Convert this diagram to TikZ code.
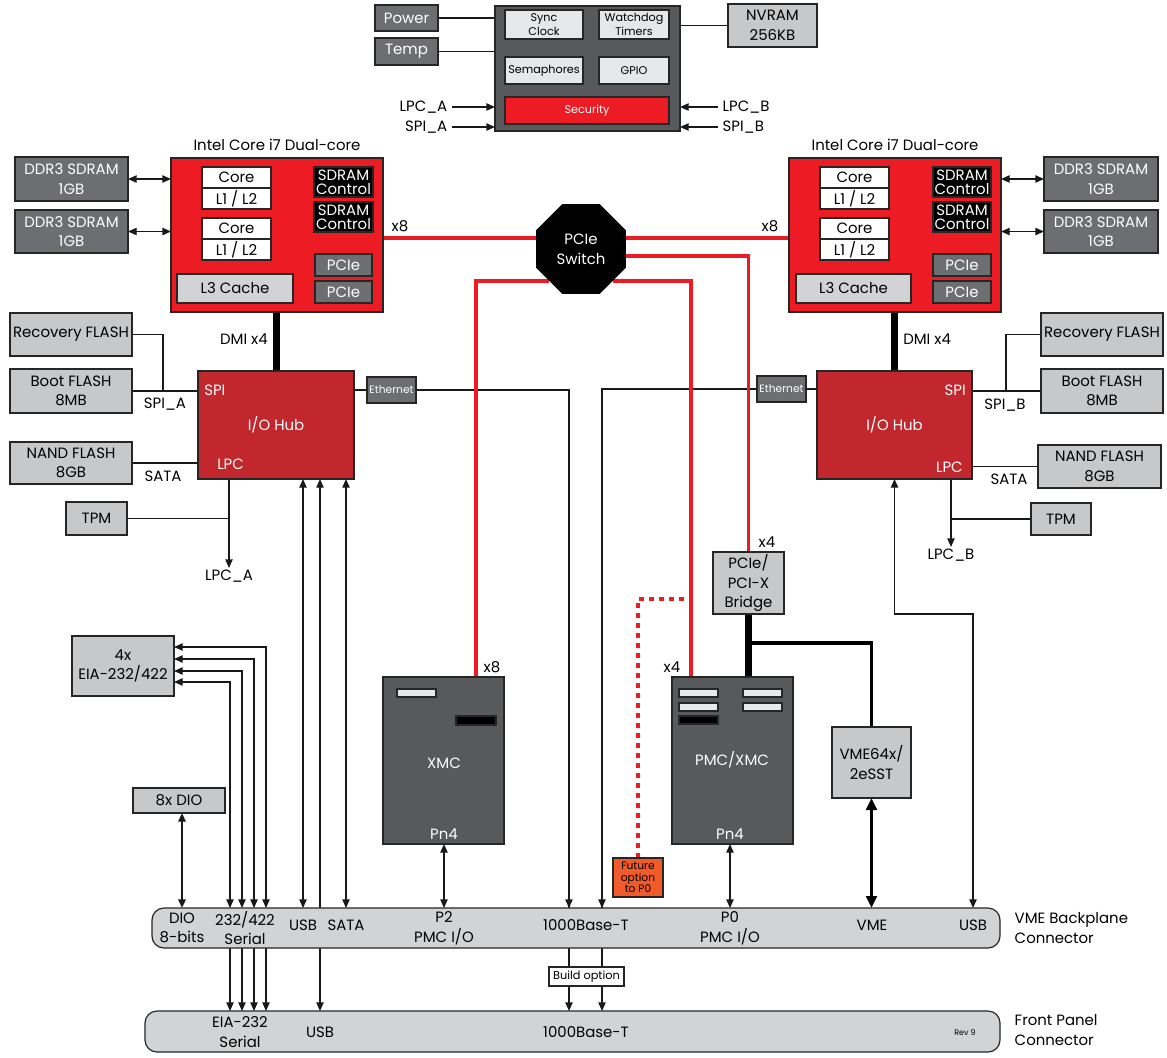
\documentclass[tikz,border=0pt]{standalone}
\usepackage{fontspec}
\setmainfont{Poppins}
\usetikzlibrary{shapes.geometric,arrows.meta}
\definecolor{vred}{HTML}{ED1C24}
\definecolor{hubred}{HTML}{C1272D}
\definecolor{dkgray}{HTML}{6D6E71}
\definecolor{slategray}{HTML}{58595B}
\definecolor{ltgray}{HTML}{C7C8CA}
\definecolor{palegray}{HTML}{E6E7E8}
\definecolor{connfill}{HTML}{D1D3D4}
\definecolor{orng}{HTML}{F15A29}
\pgfdeclarelayer{bg}
\pgfsetlayers{bg,main}

\begin{document}
\begin{tikzpicture}[x=0.75pt, y=-0.75pt, font=\fontsize{11.2}{14.8}\selectfont,
  >={Triangle[length=6.5pt,width=5.5pt]},
  corners/.style args={#1/#2/#3/#4}{minimum width={(#3-#1)*0.75pt}, minimum height={(#4-#2)*0.75pt},
    at={({(#1+#3)/2},{(#2+#4)/2})}},
  box/.style={draw=black!85, line width=0.9pt, inner sep=0pt, outer sep=0pt, align=center},
  dark/.style={box, fill=dkgray, text=white},
  light/.style={box, fill=ltgray},
  pale/.style={box, fill=palegray},
  chip/.style={box, fill=vred},
  hub/.style={box, fill=hubred, text=white},
  blk/.style={box, fill=black, text=white, font=\fontsize{11.2}{10.5}\selectfont},
  wht/.style={box, fill=white},
  well/.style={box, fill=slategray, text=white},
  conn/.style={box, fill=connfill, rounded corners=9pt},
  wire/.style={line width=1pt, draw=black!90},
  lane/.style={line width=2.3pt, draw=vred},
  bus/.style={line width=5.25pt},
  small/.style={font=\fontsize{8.4}{11}\selectfont},
  tiny/.style={font=\fontsize{8}{8.6}\selectfont}]
\useasboundingbox (0,0) rectangle (1167,1057);

% board controller
\node[well, corners=495/6/680/131] (ctl) {};
\node[pale, small, corners=505/10/583/39] (sync) {Sync\\Clock};
\node[pale, small, corners=599/10/669/39] (wdog) {Watchdog\\Timers};
\node[pale, small, corners=505/57/583/84] (sema) {Semaphores};
\node[pale, small, corners=599/57/669/84] (gpio) {GPIO};
\node[chip, small, text=white, corners=505/97/669/124] (secu) {Security};
\node[dark, corners=375/5/438/31] (power) {Power};
\node[dark, corners=375/38/438/65] (temp) {Temp};
\node[light, corners=728/4/817/47] (nvram) {NVRAM\\256KB};
\node[anchor=east] (lpcAt) at (452,107) {LPC\_A};
\node[anchor=east] (spiAt) at (452,127) {SPI\_A};
\node[anchor=west] (lpcBt) at (718,107) {LPC\_B};
\node[anchor=west] (spiBt) at (718,127) {SPI\_B};

% processor A
\node[chip, corners=171/158/383/312] (cpuA) {};
\node[above=2pt] (cpuAt) at (cpuA.north) {Intel Core i7 Dual-core};
\node[wht, corners=202/167/271/188] (coreA1) {Core};
\node[wht, corners=202/188/271/209] (cacheA1) {L1 / L2};
\node[wht, corners=202/218/271/239] (coreA2) {Core};
\node[wht, corners=202/239/271/260] (cacheA2) {L1 / L2};
\node[blk, corners=314/167/373/197] (sdrA1) {SDRAM\\Control};
\node[blk, corners=314/202/373/232] (sdrA2) {SDRAM\\Control};
\node[dark, corners=315/254/372/276] (pcieA1) {PCIe};
\node[dark, corners=315/281/372/303] (pcieA2) {PCIe};
\node[box, fill=connfill, corners=177/274/293/303] (l3A) {L3 Cache};
\node[dark, corners=15/157/128/201] (ddrA1) {DDR3 SDRAM\\1GB};
\node[dark, corners=15/210/128/253] (ddrA2) {DDR3 SDRAM\\1GB};
\node (x8A) at (400,226) {x8};

% processor B
\node[chip, corners=789/158/1001/312] (cpuB) {};
\node[above=2pt] (cpuBt) at (cpuB.north) {Intel Core i7 Dual-core};
\node[wht, corners=820/167/889/188] (coreB1) {Core};
\node[wht, corners=820/188/889/209] (cacheB1) {L1 / L2};
\node[wht, corners=820/218/889/239] (coreB2) {Core};
\node[wht, corners=820/239/889/260] (cacheB2) {L1 / L2};
\node[blk, corners=933/167/991/197] (sdrB1) {SDRAM\\Control};
\node[blk, corners=933/202/991/232] (sdrB2) {SDRAM\\Control};
\node[dark, corners=933/254/991/276] (pcieB1) {PCIe};
\node[dark, corners=933/281/991/303] (pcieB2) {PCIe};
\node[box, fill=connfill, corners=796/274/911/303] (l3B) {L3 Cache};
\node[dark, corners=1044/157/1158/201] (ddrB1) {DDR3 SDRAM\\1GB};
\node[dark, corners=1044/210/1158/253] (ddrB2) {DDR3 SDRAM\\1GB};
\node (x8B) at (770,226) {x8};

\node[regular polygon, regular polygon sides=8, fill=black, text=white, minimum size=73pt,
  inner sep=0pt, align=center] (sw) at (581,249) {PCIe\\Switch};

% I/O hub A
\node[hub, corners=198/371/354/479] (hubA) {I/O Hub};
\node[anchor=west, inner sep=0pt, text=white] (spiA) at (204,390) {SPI};
\node[anchor=west, inner sep=0pt, text=white] (lpcA) at (217,464) {LPC};
\node[anchor=east, inner sep=0pt] (dmiA) at (268,339) {DMI x4};
\node[dark, font=\fontsize{8}{9}\selectfont, corners=367/377/416/403] (ethA) {Ethernet};
\node[light, corners=10/313/132/356] (recA) {Recovery FLASH};
\node[light, corners=10/369/132/413] (bootA) {Boot FLASH\\8MB};
\node[light, corners=10/442/132/484] (nandA) {NAND FLASH\\8GB};
\node[light, corners=66/502/127/535] (tpmA) {TPM};
\node (spiAl) at (165,404) {SPI\_A};
\node (sataAl) at (163,476) {SATA};
\node[anchor=north, inner sep=1pt] (lpcAo) at (229,568) {LPC\_A};

% I/O hub B
\node[hub, corners=817/371/972/479] (hubB) {I/O Hub};
\node[anchor=east, inner sep=0pt, text=white] (spiB) at (966,390) {SPI};
\node[anchor=east, inner sep=0pt, text=white] (lpcB) at (963,467) {LPC};
\node[anchor=west, inner sep=0pt] (dmiB) at (903,339) {DMI x4};
\node[dark, font=\fontsize{8}{9}\selectfont, corners=757/376/806/402] (ethB) {Ethernet};
\node[light, corners=1041/313/1163/356] (recB) {Recovery FLASH};
\node[light, corners=1041/369/1163/413] (bootB) {Boot FLASH\\8MB};
\node[light, corners=1038/445/1161/488] (nandB) {NAND FLASH\\8GB};
\node[light, corners=1031/503/1091/535] (tpmB) {TPM};
\node (spiBl) at (1005,405) {SPI\_B};
\node (sataBl) at (1009,479) {SATA};
\node[anchor=north, inner sep=1pt] (lpcBo) at (951,547) {LPC\_B};

% mezzanine sites and bridge
\node[light, corners=713/552/784/614] (bridge) {PCIe/\\PCI-X\\Bridge};
\node (x4B) at (767,542) {x4};
\node[light, corners=832/727/911/798] (vmechip) {VME64x/\\2eSST};
\node[well, corners=383/677/504/844] (xmc) {};
\node[box, fill=palegray, corners=397/689/436/697] (xmcS) {};
\node[box, fill=black, corners=456/716/496/725] (xmcK) {};
\node[text=white] (xmcT) at (444,763) {XMC};
\node[text=white] (xmcP) at (444,834) {Pn4};
\node (x8X) at (492,667) {x8};
\node[well, corners=672/677/793/844] (pmc) {};
\node[box, fill=palegray, corners=679/689/718/697] (pmcS1) {};
\node[box, fill=palegray, corners=679/703/718/711] (pmcS2) {};
\node[box, fill=palegray, corners=743/689/782/697] (pmcS3) {};
\node[box, fill=palegray, corners=743/703/782/711] (pmcS4) {};
\node[box, fill=black, corners=679/716/718/724] (pmcK) {};
\node[text=white] (pmcT) at (732,760) {PMC/XMC};
\node[text=white] (pmcP) at (730,834) {Pn4};
\node (x4P) at (672,667) {x4};
\node[box, fill=orng, tiny, corners=613/858/663/897] (fut) {Future\\option\\to P0};
\coordinate (xmcIn) at (476,677);
\coordinate (pmcIn) at (691,677);

% serial and DIO
\node[light, corners=72/636/174/696] (eia) {4x\\EIA-232/422};
\node[light, corners=133/788/225/813] (dio) {8x DIO};

% connectors
\node[conn, corners=152/908/1000/948] (vme) {};
\node[conn, corners=145/1011/1000/1052] (front) {};
\node[align=center] (dioL) at (182,928) {DIO\\8-bits};
\node[align=center] (serL) at (245,928) {232/422\\Serial};
\node (usbL) at (303,925) {USB};
\node (sataL) at (346,925) {SATA};
\node[align=center] (p2L) at (444,928) {P2\\PMC I/O};
\node (gbeL) at (586,925) {1000Base-T};
\node[align=center] (p0L) at (730,928) {P0\\PMC I/O};
\node (vmeL) at (872,925) {VME};
\node (usbR) at (973,925) {USB};
\node[anchor=west, align=left] (vmeT) at (1010,928) {VME Backplane\\Connector};
\node[align=center] (fserL) at (240,1032) {EIA-232\\Serial};
\node (fusbL) at (320,1032) {USB};
\node (fgbeL) at (586,1032) {1000Base-T};
\node[font=\fontsize{6}{7}\selectfont] (rev) at (965,1033) {Rev 9};
\node[anchor=west, align=left] (frontT) at (1010,1030) {Front Panel\\Connector};
\node[wht, font=\fontsize{8.5}{9}\selectfont, corners=549/967/624/986] (bld) {Build option};
\coordinate (gA) at (569,908);
\coordinate (gB) at (602,908);

\begin{pgfonlayer}{bg}
\draw[wire] (power.east) -- (power.east -| ctl.west);
\draw[wire] (temp.east) -- (temp.east -| ctl.west);
\draw[wire] (nvram.west) -- (nvram.west -| ctl.east);
\draw[wire,->] (lpcAt.east) -- (lpcAt.east -| ctl.west);
\draw[wire,->] (spiAt.east) -- (spiAt.east -| ctl.west);
\draw[wire,->] (lpcBt.west) -- (lpcBt.west -| ctl.east);
\draw[wire,->] (spiBt.west) -- (spiBt.west -| ctl.east);
% memory
\draw[wire,<->] (ddrA1.east) -- (ddrA1.east -| cpuA.west);
\draw[wire,<->] (ddrA2.east) -- (ddrA2.east -| cpuA.west);
\draw[wire,<->] (ddrB1.west) -- (ddrB1.west -| cpuB.east);
\draw[wire,<->] (ddrB2.west) -- (ddrB2.west -| cpuB.east);
% PCIe lanes
\coordinate (lane8) at (0,238);
\draw[lane] (lane8 -| cpuA.east) -- (lane8 -| sw.west);
\draw[lane] (lane8 -| sw.east) -- (lane8 -| cpuB.west);
\draw[wire] (ethB.west) -| (gB);
\draw[wire] (ethA.east) -| (gA);
\draw[lane] (sw.east) ++(0,7) -| (bridge.north);
\draw[lane] (sw.south west) -| (xmcIn);
\draw[lane] (sw.south east) -| (pmcIn);
\draw[lane, dash pattern=on 4pt off 3.5pt] (fut.north) |- (pmcIn |- 0,599);
% DMI
\draw[bus] (hubA.north) -- (hubA.north |- cpuA.south);
\draw[bus] (hubB.north) -- (hubB.north |- cpuB.south);
% hub A side
\coordinate (jA) at (163,391);
\draw[wire] (recA.east) -| (jA);
\draw[wire] (bootA.east) -- (bootA.east -| hubA.west);
\draw[wire] (nandA.east) -- (nandA.east -| hubA.west);
\draw[wire] (tpmA.east) -- (tpmA.east -| lpcAo);
\draw[wire,->] (hubA.south -| lpcAo) -- (lpcAo.north);
\draw[wire] (ethA.west) -- (ethA.west -| hubA.east);
% hub B side
\coordinate (jB) at (1006,391);
\draw[wire] (recB.west) -| (jB);
\draw[wire] (bootB.west) -- (bootB.west -| hubB.east);
\draw[wire] (nandB.west) -- (nandB.west -| hubB.east);
\draw[wire] (tpmB.west) -- (tpmB.west -| lpcBo);
\draw[wire,->] (hubB.south -| lpcBo) -- (lpcBo.north);
\draw[wire] (ethB.east) -- (ethB.east -| hubB.west);
% down to the backplane
\draw[wire,<->] (hubA.south -| usbL) -- (usbL |- vme.north);
\draw[wire,<->] (hubA.south -| sataL) -- (sataL |- vme.north);
\draw[wire,<->] (hubA.south -| fusbL) -- (fusbL |- front.north);
\foreach \y/\x in {647/266,659/254,671/242,682/230}
  \draw[wire,<->] (eia.east |- 0,\y) -| (\x,0 |- vme.north);
\foreach \x in {230,242,254,266}
  \draw[wire,->] (\x,0 |- vme.south) -- (\x,0 |- front.north);
\draw[wire, line width=1.6pt, <->] (dioL |- dio.south) -- (dioL |- vme.north);
\draw[wire,<->] (p2L |- xmc.south) -- (p2L |- vme.north);
\draw[wire,<->] (p0L |- pmc.south) -- (p0L |- vme.north);
\draw[bus] (bridge.south) -- (bridge.south |- pmc.north);
\draw[line width=2.6pt] (bridge.south |- 0,643) -| (vmechip.north);
\draw[line width=2.4pt, {Triangle[length=9pt,width=8pt]}-{Triangle[length=9pt,width=8pt]}]
  (vmechip.south) -- (vmechip.south |- vme.north);
\draw[wire,<->] (hubB.south) |- (usbR |- 0,614) -- (usbR |- vme.north);
\draw[wire,->] (gA |- ethA.east) -- (gA);
\draw[wire,->] (gB |- ethB.west) -- (gB);
\foreach \g in {gA,gB}
  \draw[wire,->] (\g |- vme.south) -- (\g |- front.north);
\end{pgfonlayer}
\end{tikzpicture}
\end{document}
